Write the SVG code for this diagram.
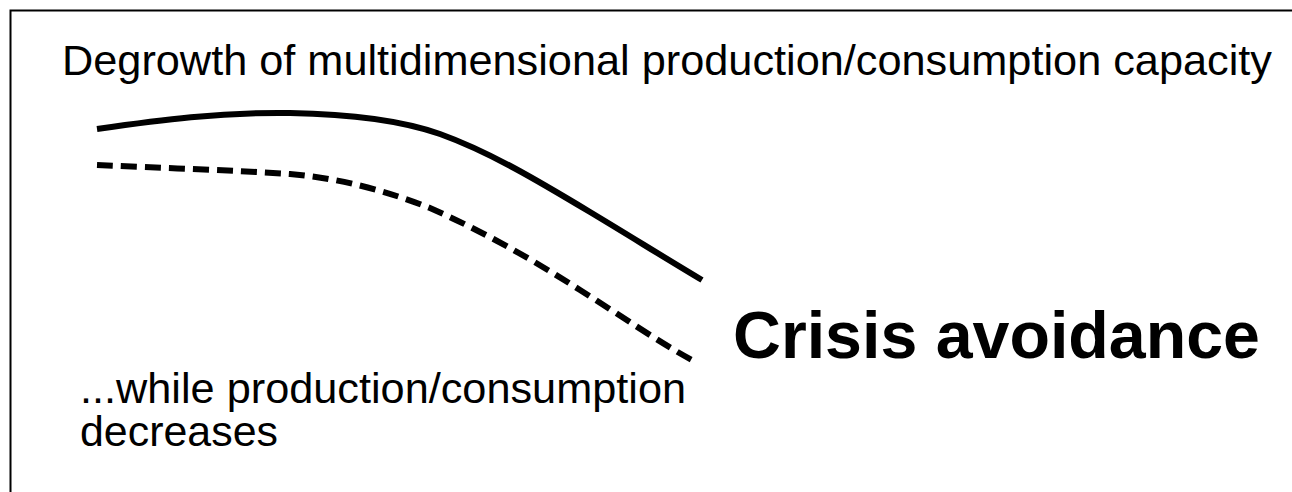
<svg xmlns="http://www.w3.org/2000/svg" width="1292" height="492" viewBox="0 0 1292 492">
<style>
.t{font-family:"Liberation Sans",Arial,sans-serif;fill:#000}
.b{font-family:"Liberation Sans",Arial,sans-serif;font-weight:bold;fill:#000}
.c{fill:none;stroke:#000;stroke-width:6}
</style>
<rect width="1292" height="492" fill="#fff"/>
<g id="frame" stroke="#000" stroke-width="2" fill="none">
<path d="M10.5,493 V10.5 H1293"/>
</g>
<g id="title"><text class="t" x="62" y="75" font-size="42" textLength="1210" lengthAdjust="spacingAndGlyphs">Degrowth of multidimensional production/consumption capacity</text></g>
<g id="connectors">
<path class="c" d="M97,129 C160,120 220,112 290,113 C350,114 400,120 440,134 C490,152 540,182 590,212 C630,236 665,258 702,280"/>
<path class="c" stroke-dasharray="16,8" d="M97,165 C160,168 230,170 290,174 C340,178 390,192 430,208 C480,230 530,258 580,290 C620,315 660,343 692,360"/>
</g>
<g id="label-decreases">
<text class="t" font-size="42" x="80" y="403" textLength="606" lengthAdjust="spacingAndGlyphs">...while production/consumption</text>
<text class="t" font-size="42" x="80" y="446" textLength="198" lengthAdjust="spacingAndGlyphs">decreases</text>
</g>
<g id="crisis"><text class="b" x="733" y="358" font-size="66" textLength="527" lengthAdjust="spacingAndGlyphs">Crisis avoidance</text></g>
</svg>
